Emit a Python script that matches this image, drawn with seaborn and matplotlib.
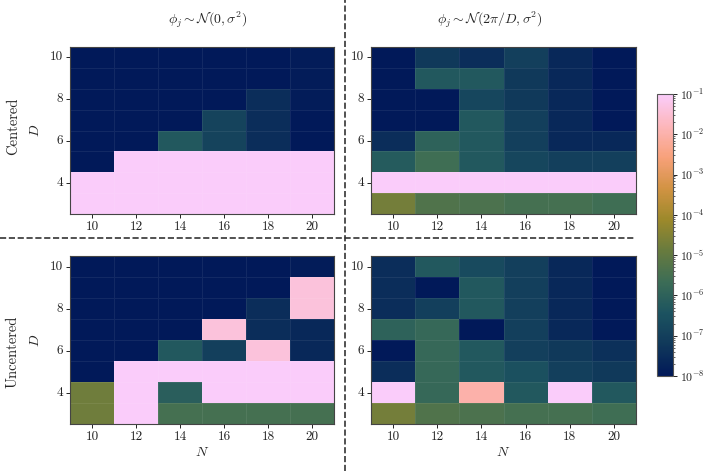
import numpy as np
import matplotlib
matplotlib.use("Agg")
import matplotlib.pyplot as plt
import seaborn as sns
from matplotlib.colors import LinearSegmentedColormap, LogNorm
from matplotlib.cm import ScalarMappable
from matplotlib.lines import Line2D

# axes values
N_vals = [10, 12, 14, 16, 18, 20]
D_vals = [10, 9, 8, 7, 6, 5, 4, 3]   # top row first

# log10 of the error, rows D = 10 ... 3, columns N = 10 ... 20
centered_zero = [
    [-8.0, -8.0, -8.0, -8.0, -8.0, -7.9],
    [-8.0, -8.0, -8.0, -8.0, -8.0, -7.9],
    [-8.0, -8.0, -8.0, -8.0, -7.5, -7.9],
    [-8.0, -8.0, -8.0, -6.9, -7.5, -8.0],
    [-8.0, -8.0, -6.3, -6.9, -7.5, -8.0],
    [-8.0, -0.8, -0.8, -0.8, -0.8, -0.8],
    [-0.8, -0.8, -0.8, -0.8, -0.8, -0.8],
    [-0.8, -0.8, -0.8, -0.8, -0.8, -0.8],
]
centered_shift = [
    [-8.0, -7.2, -7.5, -7.0, -7.6, -8.0],
    [-8.0, -6.3, -6.3, -7.2, -7.6, -8.0],
    [-8.0, -8.0, -6.8, -7.2, -7.6, -8.0],
    [-8.0, -8.0, -6.3, -7.0, -7.6, -8.0],
    [-7.5, -6.0, -6.3, -7.0, -7.6, -7.6],
    [-6.2, -5.6, -6.3, -6.8, -7.0, -7.0],
    [-0.8, -0.8, -0.8, -0.8, -0.8, -0.8],
    [-4.7, -5.3, -5.4, -5.5, -5.5, -5.6],
]
uncentered_zero = [
    [-8.0, -8.0, -8.0, -8.0, -8.0, -7.9],
    [-8.0, -8.0, -8.0, -8.0, -8.0, -1.4],
    [-8.0, -8.0, -8.0, -8.0, -7.5, -1.4],
    [-8.0, -8.0, -8.0, -1.4, -7.5, -7.6],
    [-8.0, -8.0, -6.3, -7.0, -1.4, -7.6],
    [-8.0, -1.0, -1.0, -1.0, -1.0, -1.0],
    [-4.8, -0.8, -6.1, -0.8, -0.8, -0.8],
    [-4.8, -0.8, -5.5, -5.5, -5.5, -5.5],
]
uncentered_shift = [
    [-7.5, -6.3, -6.7, -7.0, -7.6, -8.0],
    [-7.5, -8.0, -6.3, -7.0, -7.6, -8.0],
    [-7.5, -7.0, -6.3, -7.0, -7.6, -8.0],
    [-6.0, -5.8, -8.0, -7.0, -7.6, -8.0],
    [-8.0, -5.8, -6.3, -7.0, -7.2, -7.4],
    [-7.5, -5.8, -6.3, -6.5, -7.0, -7.2],
    [-0.8, -5.8, -2.0, -6.3, -0.8, -6.3],
    [-4.7, -5.3, -5.4, -5.5, -5.5, -5.6],
]

col_titles = [r"$\phi_j \sim \mathcal{N}(0,\sigma^2)$",
              r"$\phi_j \sim \mathcal{N}(2\pi/D,\sigma^2)$"]
row_titles = ["Centered", "Uncentered"]

# batlow-like colormap
batlow = LinearSegmentedColormap.from_list("batlow", [
    "#011959", "#10385A", "#1C5360", "#3C6D56", "#687B3E",
    "#9D892B", "#D29343", "#F8A17B", "#FDB7BC", "#FACCFA"])
norm = LogNorm(vmin=1e-8, vmax=1e-1)

sns.set_style("white")
plt.rcParams["font.family"] = "serif"
plt.rcParams["font.serif"] = ["cmr10", "DejaVu Serif"]
plt.rcParams["mathtext.fontset"] = "cm"
plt.rcParams["axes.unicode_minus"] = False
plt.rcParams["axes.formatter.use_mathtext"] = True
plt.rcParams["font.size"] = 9

fig = plt.figure(figsize=(7.06, 4.71), dpi=100)
W, H = 706, 471

def px_axes(left, top, right, bottom):
    return fig.add_axes([left / W, 1 - bottom / H, (right - left) / W, (bottom - top) / H])

panels = [
    (centered_zero, (70, 47, 334, 214), 0, 0),
    (centered_shift, (371, 47, 636, 214), 0, 1),
    (uncentered_zero, (70, 256, 334, 424), 1, 0),
    (uncentered_shift, (371, 256, 636, 424), 1, 1),
]

for data, box, r, c in panels:
    ax = px_axes(*box)
    vals = 10.0 ** np.array(data)
    sns.heatmap(vals, ax=ax, cmap=batlow, norm=norm, cbar=False,
                linewidths=0.5, linecolor=(1, 1, 1, 0.07))
    ax.set_xticks(np.arange(len(N_vals)) + 0.5)
    ax.set_xticklabels([str(n) for n in N_vals], rotation=0)
    ypos = [i + 0.5 for i, d in enumerate(D_vals) if d % 2 == 0]
    ax.set_yticks(ypos)
    ax.set_yticklabels([str(d) for d in D_vals if d % 2 == 0], rotation=0)
    ax.tick_params(bottom=True, left=True, length=3, width=0.7,
                   direction="out", labelsize=9.5, pad=2, colors="#222222")
    for s in ax.spines.values():
        s.set_visible(True)
        s.set_color("#444444")
        s.set_linewidth(0.8)
    if c == 0:
        ax.set_ylabel("$D$", fontsize=10, labelpad=6)
    else:
        ax.set_ylabel("")
    if r == 1:
        ax.set_xlabel("$N$", fontsize=10, labelpad=2)
    else:
        ax.set_xlabel("")

# column titles
fig.text(208 / W, 1 - 20 / H, col_titles[0], ha="center", va="center", fontsize=10)
fig.text(490 / W, 1 - 20 / H, col_titles[1], ha="center", va="center", fontsize=10)
# row titles
fig.text(13 / W, 1 - 126 / H, row_titles[0], ha="center", va="center", rotation=90, fontsize=10.5)
fig.text(13 / W, 1 - 352 / H, row_titles[1], ha="center", va="center", rotation=90, fontsize=10.5)

# colorbar
cax = px_axes(657, 94, 673, 376)
sm = ScalarMappable(norm=norm, cmap=batlow)
cb = fig.colorbar(sm, cax=cax)
cb.set_ticks([10.0 ** k for k in range(-8, 0)])
cb.ax.tick_params(labelsize=8.5, length=3, width=0.7, which="major", colors="#222222", pad=2)
cb.ax.tick_params(which="minor", length=1.5, width=0.5)
cb.outline.set_edgecolor("#555555")
cb.outline.set_linewidth(0.8)

# dashed separators
fig.add_artist(Line2D([0, 636 / W], [1 - 238 / H, 1 - 238 / H], transform=fig.transFigure,
                      color="#333333", linestyle="--", linewidth=1.2))
fig.add_artist(Line2D([345 / W, 345 / W], [0, 1], transform=fig.transFigure,
                      color="#333333", linestyle="--", linewidth=1.2))

fig.savefig("out.png", dpi=100)
